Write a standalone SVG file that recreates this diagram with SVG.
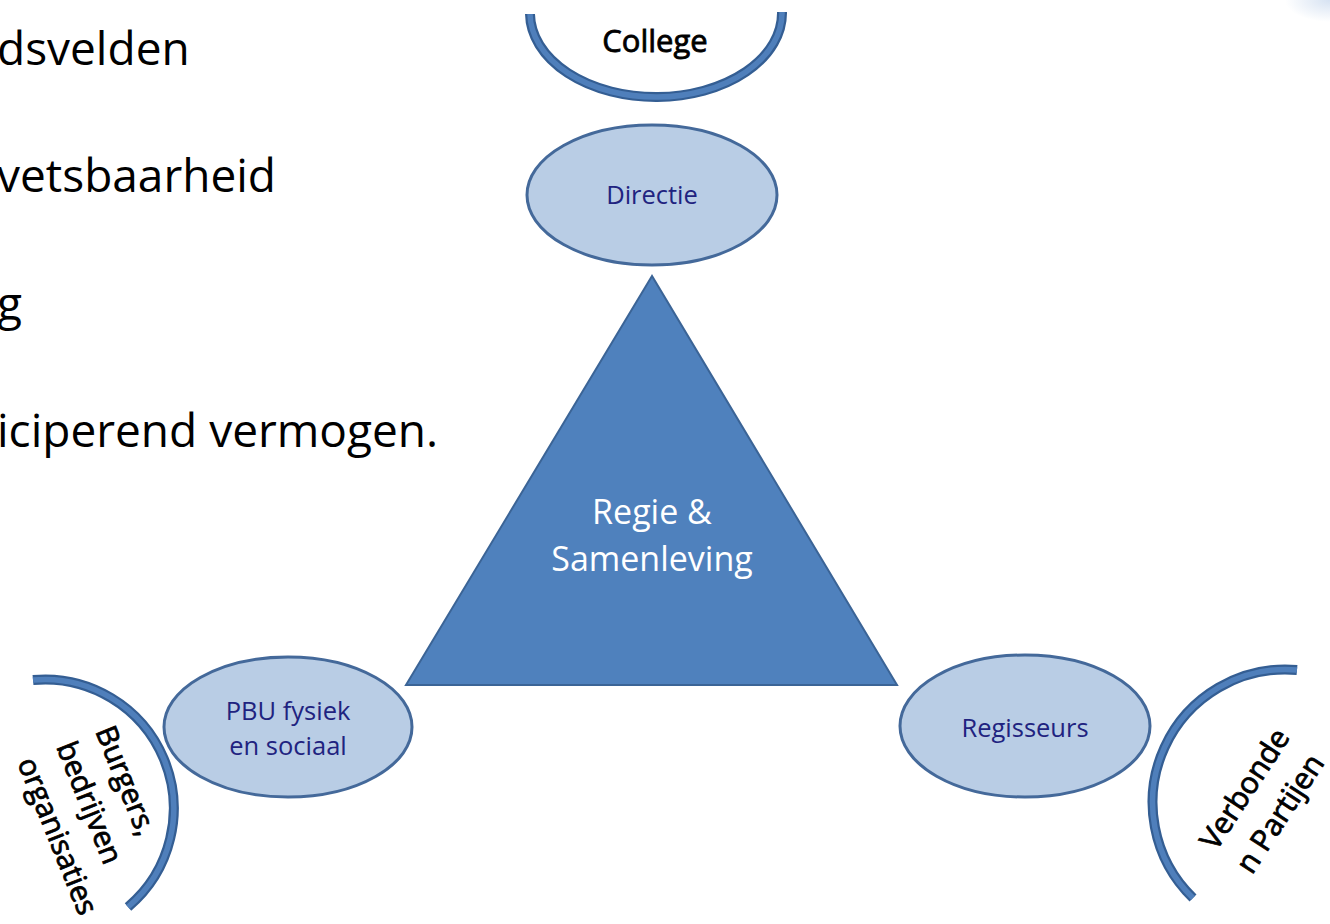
<svg xmlns="http://www.w3.org/2000/svg" width="1330" height="924" viewBox="0 0 1330 924">
<defs>
<radialGradient id="blob" cx="0.5" cy="0.5" r="0.5">
<stop offset="0" stop-color="#d6e2f2"/>
<stop offset="1" stop-color="#d6e2f2" stop-opacity="0"/>
</radialGradient>
<style>
.body{font-family:"Open Sans","Liberation Sans",sans-serif;font-size:46px;fill:#000}
.lbl{font-family:"Open Sans","Liberation Sans",sans-serif;fill:#000;stroke:#000;stroke-width:0.8}
.ell{fill:#b9cde5;stroke:#44699a;stroke-width:3}
.etx{font-family:"Open Sans","Liberation Sans",sans-serif;font-size:25.5px;fill:#1f2380;text-anchor:middle}
.arcO{fill:none;stroke:#345e93;stroke-width:10}
.arcI{fill:none;stroke:#4f7fbb;stroke-width:5.5}
</style>
</defs>
<rect width="1330" height="924" fill="#fff"/>
<ellipse cx="1330" cy="0" rx="45" ry="22" fill="url(#blob)"/>
<g id="bodytext">
<text class="body" x="-3" y="65">dsvelden</text>
<text class="body" x="-3" y="192">vetsbaarheid</text>
<text class="body" x="-3" y="320">g</text>
<text class="body" x="-3" y="447">iciperend vermogen.</text>
</g>
<g id="connectors"/>
<g id="college">
<path class="arcO" d="M530,14 A126,84 0 0 0 782,12"/>
<path class="arcI" d="M530,14 A126,84 0 0 0 782,12"/>
<text class="lbl" x="655" y="52" font-size="31" text-anchor="middle">College</text>
</g>
<g id="directie">
<ellipse class="ell" cx="652" cy="195" rx="125" ry="70"/>
<text class="etx" x="652" y="204">Directie</text>
</g>
<g id="regie">
<polygon points="652,276 406,685 897,685" fill="#4f81bd" stroke="#3b6496" stroke-width="2"/>
<text x="652" y="524" font-family="Open Sans, Liberation Sans, sans-serif" font-size="34" fill="#fff" text-anchor="middle">Regie &amp;</text>
<text x="652" y="571" font-family="Open Sans, Liberation Sans, sans-serif" font-size="34" fill="#fff" text-anchor="middle">Samenleving</text>
</g>
<g id="pbu">
<ellipse class="ell" cx="288" cy="727" rx="124" ry="70"/>
<text class="etx" x="288" y="720">PBU fysiek</text>
<text class="etx" x="288" y="755">en sociaal</text>
</g>
<g id="regisseurs">
<ellipse class="ell" cx="1025" cy="726" rx="125" ry="71"/>
<text class="etx" x="1025" y="737">Regisseurs</text>
</g>
<g id="burgers">
<path class="arcO" d="M33,680 A129,129 0 0 1 128,907"/>
<path class="arcI" d="M33,680 A129,129 0 0 1 128,907"/>
<g transform="translate(95,731) rotate(68)">
<text class="lbl" x="0" y="0" font-size="29.5">Burgers,</text>
<text class="lbl" x="0" y="42" font-size="29.5">bedrijven</text>
<text class="lbl" x="0" y="84" font-size="29.5">organisaties</text>
</g>
</g>
<g id="verbonden">
<path class="arcO" d="M1297,670 A133,133 0 0 0 1193,898"/>
<path class="arcI" d="M1297,670 A133,133 0 0 0 1193,898"/>
<g transform="translate(1216,852) rotate(-57)">
<text class="lbl" x="0" y="0" font-size="30">Verbonde</text>
<text class="lbl" x="0" y="43" font-size="30">n Partijen</text>
</g>
</g>
</svg>
